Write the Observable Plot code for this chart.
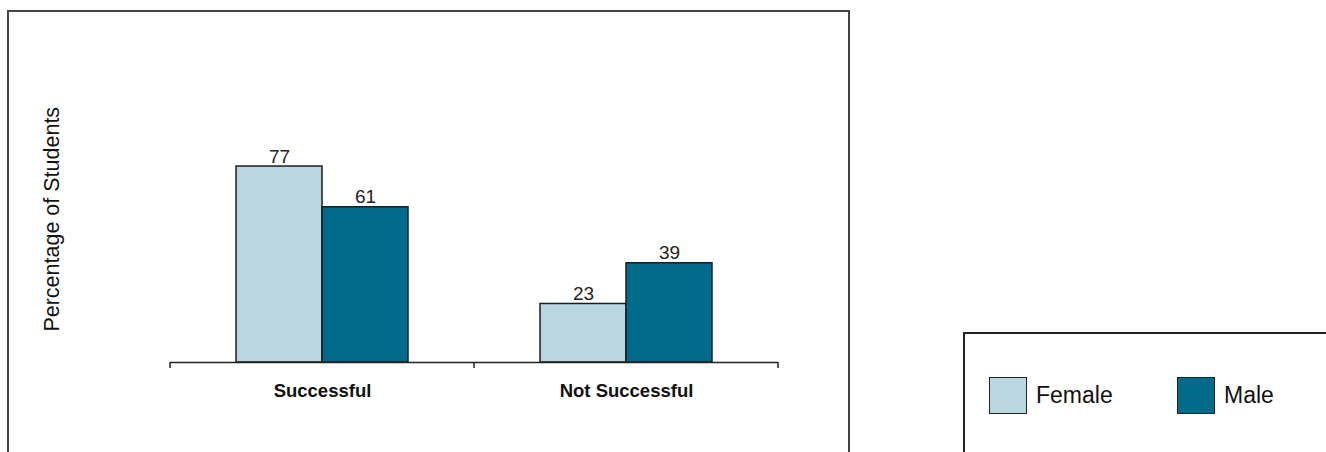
<!DOCTYPE html>
<html>
<head>
<meta charset="utf-8">
<script src="https://cdn.jsdelivr.net/npm/d3@7"></script>
<script src="https://cdn.jsdelivr.net/npm/@observablehq/plot@0.6"></script>
<style>
  html, body { margin: 0; padding: 0; background: #fff; width: 1326px; height: 452px; overflow: hidden; font-family: "Liberation Sans", Arial, sans-serif; }
  #frame { position: absolute; left: 7px; top: 10px; width: 843px; height: 470px; border: 2px solid #444; box-sizing: border-box; }
  #chart { position: absolute; left: 0; top: 0; }
  #legend { position: absolute; left: 963px; top: 332px; width: 400px; height: 160px; border: 2px solid #222; box-sizing: border-box; }
  .item { position: absolute; top: 43px; display: flex; align-items: center; font-size: 23px; color: #111; }
  .sw { width: 36px; height: 35px; border: 1.5px solid #222; margin-right: 9px; }
</style>
</head>
<body>
<div id="frame"></div>
<div id="chart"></div>
<div id="legend"></div>
<script>
const categories = ["Successful", "Not Successful"];
const series = ["Female", "Male"];
const femaleValues = [77, 23];
const maleValues = [61, 39];
const colors = ["#bad6e1", "#006a8a"];
const yLabel = "Percentage of Students";

const data = [];
categories.forEach((c, i) => {
  data.push({category: c, sex: "Female", value: femaleValues[i]});
  data.push({category: c, sex: "Male", value: maleValues[i]});
});

const chart = Plot.plot({
  width: 850,
  height: 452,
  marginLeft: 170,
  marginRight: 72,
  marginTop: 107.5,
  marginBottom: 90,
  style: {fontFamily: "'Liberation Sans', Arial, sans-serif", background: "transparent"},
  fx: {domain: categories, padding: 0, label: null},
  x: {domain: series, paddingInner: 0, paddingOuter: 0.75, axis: null},
  y: {domain: [0, 100], label: null, axis: null},
  color: {domain: series, range: colors},
  marks: [
    Plot.barY(data, {fx: "category", x: "sex", y: "value", fill: "sex", stroke: "#1e1e1e", strokeWidth: 1.5}),
    Plot.text(data, {fx: "category", x: "sex", y: "value", text: d => String(d.value), lineAnchor: "bottom", dy: -4, fontSize: 19, fill: "#222"}),
    Plot.ruleY([0], {stroke: "#222", strokeWidth: 1.5}),
    Plot.axisFx({anchor: "bottom", tickSize: 0, tickPadding: 21, fontSize: 18.5, fontWeight: "bold", fill: "#111", label: null}),
    Plot.text([yLabel], {fx: () => categories[0], text: d => d, frameAnchor: "left", textAnchor: "middle", lineAnchor: "middle", rotate: -90, dx: -118, dy: -16, fontSize: 21.5, fill: "#111"})
  ]
});
document.getElementById("chart").appendChild(chart);

// Boundary tick marks between categories, positioned with Plot's fx scale
const fx = chart.scale("fx");
const y = chart.scale("y");
const edges = categories.map(c => fx.apply(c)).concat([fx.apply(categories[categories.length - 1]) + fx.bandwidth]);
const y0 = y.apply(0);
d3.select(chart).append("g")
  .attr("stroke", "#222").attr("stroke-width", 1.5)
  .selectAll("line").data(edges).join("line")
  .attr("x1", d => d).attr("x2", d => d)
  .attr("y1", y0).attr("y2", y0 + 6);

// Legend
const legend = document.getElementById("legend");
const legendX = [24, 212];
series.forEach((s, i) => {
  const item = document.createElement("div");
  item.className = "item";
  item.style.left = legendX[i] + "px";
  const sw = document.createElement("div");
  sw.className = "sw";
  sw.style.background = colors[i];
  item.appendChild(sw);
  const t = document.createElement("span");
  t.textContent = s;
  item.appendChild(t);
  legend.appendChild(item);
});
</script>
</body>
</html>
